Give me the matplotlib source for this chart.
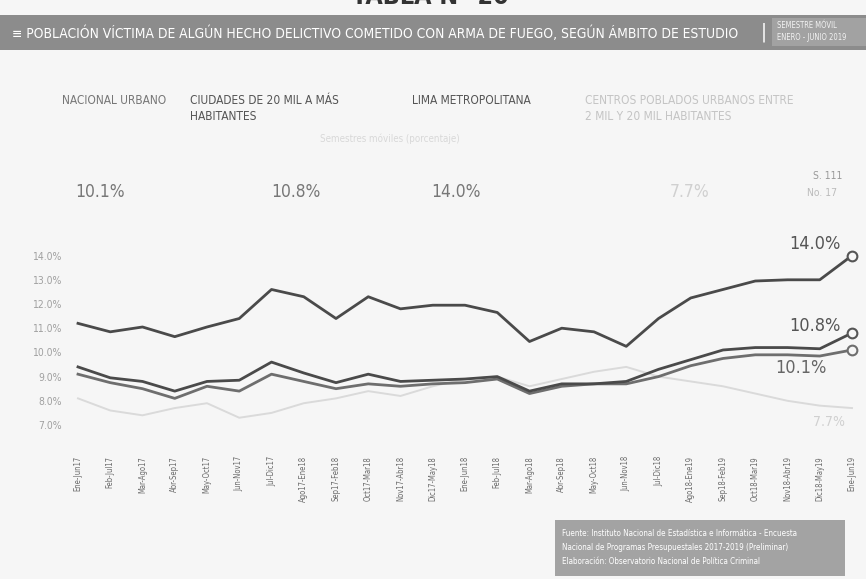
import matplotlib
matplotlib.use("Agg")
import matplotlib.pyplot as plt
from matplotlib.patches import Rectangle
import numpy as np

W, H = 866, 579

periods = ["Ene-Jun17", "Feb-Jul17", "Mar-Ago17", "Abr-Sep17", "May-Oct17", "Jun-Nov17",
           "Jul-Dic17", "Ago17-Ene18", "Sep17-Feb18", "Oct17-Mar18", "Nov17-Abr18",
           "Dic17-May18", "Ene-Jun18", "Feb-Jul18", "Mar-Ago18", "Abr-Sep18", "May-Oct18",
           "Jun-Nov18", "Jul-Dic18", "Ago18-Ene19", "Sep18-Feb19", "Oct18-Mar19",
           "Nov18-Abr19", "Dic18-May19", "Ene-Jun19"]

lima = [11.2, 10.85, 11.05, 10.65, 11.05, 11.4, 12.6, 12.3, 11.4, 12.3, 11.8, 11.95,
        11.95, 11.65, 10.45, 11.0, 10.85, 10.25, 11.4, 12.25, 12.6, 12.95, 13.0, 13.0, 14.0]
ciudades = [9.4, 8.95, 8.8, 8.4, 8.8, 8.85, 9.6, 9.15, 8.75, 9.1, 8.8, 8.85,
            8.9, 9.0, 8.4, 8.7, 8.7, 8.8, 9.3, 9.7, 10.1, 10.2, 10.2, 10.15, 10.8]
nacional = [9.1, 8.75, 8.5, 8.1, 8.6, 8.4, 9.1, 8.8, 8.5, 8.7, 8.6, 8.7,
            8.75, 8.9, 8.3, 8.6, 8.7, 8.7, 9.0, 9.45, 9.75, 9.9, 9.9, 9.85, 10.1]
centros = [8.1, 7.6, 7.4, 7.7, 7.9, 7.3, 7.5, 7.9, 8.1, 8.4, 8.2, 8.6,
           8.9, 9.0, 8.6, 8.9, 9.2, 9.4, 9.0, 8.8, 8.6, 8.3, 8.0, 7.8, 7.7]

yticks = [7.0, 8.0, 9.0, 10.0, 11.0, 12.0, 13.0, 14.0]
ytick_labels = ["7.0%", "8.0%", "9.0%", "10.0%", "11.0%", "12.0%", "13.0%", "14.0%"]

headers = ["NACIONAL URBANO", "CIUDADES DE 20 MIL A MÁS\nHABITANTES", "LIMA METROPOLITANA",
           "CENTROS POBLADOS URBANOS ENTRE\n2 MIL Y 20 MIL HABITANTES"]
header_values = ["10.1%", "10.8%", "14.0%", "7.7%"]

title = "POBLACIÓN VÍCTIMA DE ALGÚN HECHO DELICTIVO COMETIDO CON ARMA DE FUEGO, SEGÚN ÁMBITO DE ESTUDIO"

plt.rcParams["font.family"] = ["DejaVu Sans"]
plt.rcParams["font.stretch"] = "condensed"

fig = plt.figure(figsize=(W / 100, H / 100), dpi=100)
BG = "#f6f6f6"
fig.patch.set_facecolor(BG)


def fx(x):
    return x / W


def fy(y):
    return 1 - y / H


# top title (cut by the page edge, as in the scan)
fig.text(fx(430), fy(-3), "TABLA N° 20", ha="center", va="center", fontsize=18,
         color="#333333", fontweight="bold")

# banner
fig.patches.append(Rectangle((0, fy(50)), 1, (50 - 15) / H, transform=fig.transFigure,
                             facecolor="#8c8c8c", edgecolor="none", zorder=0))
fig.patches.append(Rectangle((fx(772), fy(46)), (866 - 772) / W, (46 - 18) / H,
                             transform=fig.transFigure, facecolor="#a2a2a2",
                             edgecolor="none", zorder=0))
fig.text(fx(12), fy(33), "≡ " + title, ha="left", va="center", fontsize=9.9,
         color="white")
fig.text(fx(764), fy(32), "|", ha="center", va="center", fontsize=14, color="white")
fig.text(fx(777), fy(26), "SEMESTRE MÓVIL", ha="left", va="center", fontsize=5.5, color="#f2f2f2")
fig.text(fx(777), fy(38), "ENERO - JUNIO 2019", ha="left", va="center", fontsize=5.5, color="#f2f2f2")

# headers
hx = [62, 190, 412, 585]
hcol = ["#777777", "#555555", "#555555", "#c4c4c4"]
for x, t, c in zip(hx, headers, hcol):
    fig.text(fx(x), fy(94), t, ha="left", va="top", fontsize=8.6, color=c, linespacing=1.35)

fig.text(fx(390), fy(139), "Semestres móviles (porcentaje)", ha="center", va="center",
         fontsize=7, color="#d8d8d8")

vx = [100, 296, 456, 690]
vcol = ["#777777", "#777777", "#777777", "#d0d0d0"]
for x, t, c in zip(vx, header_values, vcol):
    fig.text(fx(x), fy(192), t, ha="center", va="center", fontsize=12.5, color=c)
fig.text(fx(828), fy(176), "S. 111", ha="center", va="center", fontsize=7.5, color="#999999")
fig.text(fx(822), fy(193), "No. 17", ha="center", va="center", fontsize=7.5, color="#bbbbbb")

# main axes: px mapping
ax_left, ax_right, ax_top, ax_bot = 66, 866, 240, 452
ax = fig.add_axes([fx(ax_left), fy(ax_bot), (ax_right - ax_left) / W, (ax_bot - ax_top) / H])
ax.set_facecolor("none")
spacing = 32.25
xmin = -(78 - ax_left) / spacing
xmax = xmin + (ax_right - ax_left) / spacing
ax.set_xlim(xmin, xmax)
scale = 24.2
ax.set_ylim(10 - (ax_bot - 352.4) / scale, 10 + (352.4 - ax_top) / scale)

x = np.arange(len(periods))
ax.plot(x, centros, color="#dadada", lw=1.4, zorder=1)
ax.plot(x, nacional, color="#6e6e6e", lw=2.0, zorder=2)
ax.plot(x, ciudades, color="#4a4a4a", lw=2.0, zorder=3)
ax.plot(x, lima, color="#4a4a4a", lw=2.0, zorder=3)
for s, c in [(lima, "#555555"), (ciudades, "#555555"), (nacional, "#6e6e6e")]:
    ax.plot(x[-1], s[-1], "o", ms=7, mfc=BG, mec=c, mew=1.5, zorder=4)

ax.annotate("14.0%", (x[-1], lima[-1]), xytext=(-8, 8), textcoords="offset points",
            ha="right", va="center", fontsize=13, color="#555555")
ax.annotate("10.8%", (x[-1], ciudades[-1]), xytext=(-8, 5), textcoords="offset points",
            ha="right", va="center", fontsize=13, color="#555555")
ax.annotate("10.1%", (x[-1], nacional[-1]), xytext=(-18, -13), textcoords="offset points",
            ha="right", va="center", fontsize=13, color="#666666")
ax.annotate("7.7%", (x[-1], centros[-1]), xytext=(-5, -10), textcoords="offset points",
            ha="right", va="center", fontsize=10, color="#d0d0d0")

for sp in ax.spines.values():
    sp.set_visible(False)
ax.set_yticks(yticks)
ax.set_yticklabels(ytick_labels, fontsize=7.5, color="#a0a0a0")
ax.set_xticks(x)
ax.set_xticklabels(periods, rotation=90, fontsize=5.5, color="#6a6a6a")
ax.tick_params(length=0, pad=3)

# source box
fig.patches.append(Rectangle((fx(555), fy(576)), (845 - 555) / W, (576 - 520) / H,
                             transform=fig.transFigure, facecolor="#a3a3a3",
                             edgecolor="none", zorder=0))
src = ["Fuente: Instituto Nacional de Estadística e Informática - Encuesta",
       "Nacional de Programas Presupuestales 2017-2019 (Preliminar)",
       "Elaboración: Observatorio Nacional de Política Criminal"]
for i, t in enumerate(src):
    fig.text(fx(562), fy(533 + i * 14), t, ha="left", va="center", fontsize=5.8, color="white")

fig.savefig("out.png", dpi=100, facecolor=fig.get_facecolor())
